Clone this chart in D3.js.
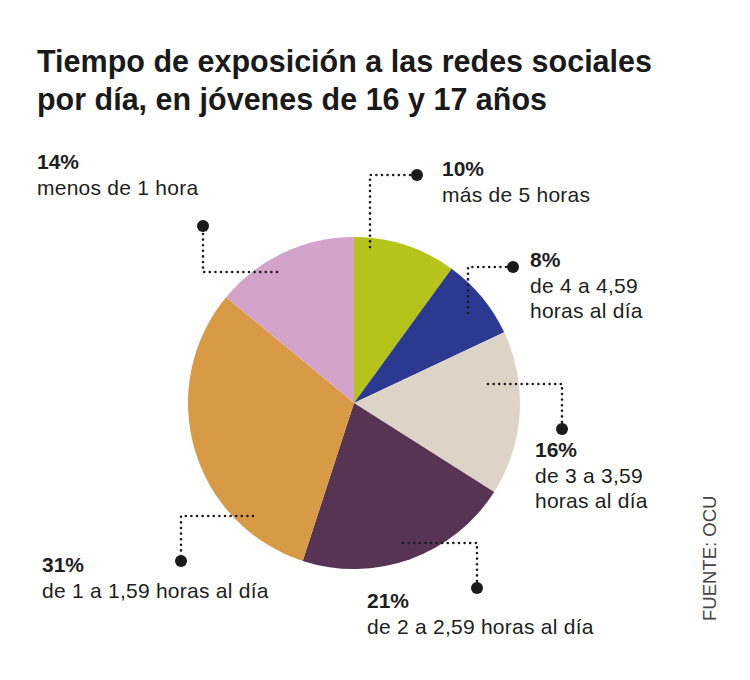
<!DOCTYPE html>
<html><head><meta charset="utf-8">
<script src="https://cdn.jsdelivr.net/npm/d3@7"></script>
<style>
html,body{margin:0;padding:0;background:#fff;}
svg{display:block;}
</style></head>
<body>
<svg id="chart" width="750" height="680"></svg>
<script>
// ---- data ----
const categories = ["más de 5 horas","de 4 a 4,59 horas al día","de 3 a 3,59 horas al día","de 2 a 2,59 horas al día","de 1 a 1,59 horas al día","menos de 1 hora"];
const values = [10, 8, 16, 21, 31, 14];
const colors = ["#b5c31a","#2b3a90","#ddd3c7","#573454","#d99a46","#d4a3c9"];
const labelLines = [["más de 5 horas"],["de 4 a 4,59","horas al día"],["de 3 a 3,59","horas al día"],["de 2 a 2,59 horas al día"],["de 1 a 1,59 horas al día"],["menos de 1 hora"]];
const titleLines = ["Tiempo de exposición a las redes sociales","por día, en jóvenes de 16 y 17 años"];
const source = "FUENTE: OCU";

// ---- layout ----
const W = 750, H = 680;
const cx = 354, cy = 403, R = 166;
// annotation layout: start point (offset from pie centre), elbow, dot, text anchor
const ann = [
  {pts:[[16,-156],[16,-228]], dot:[63,-228], text:[88,-227]},
  {pts:[[114,-90],[114,-136]], dot:[159,-136], text:[176,-136]},
  {pts:[[134,-19],[208,-19]], dot:[208,26], text:[181,54]},
  {pts:[[49,140],[123,140]], dot:[123,185], text:[13,205]},
  {pts:[[-101,113],[-173,113]], dot:[-173,158], text:[-312,169]},
  {pts:[[-77,-131],[-151,-131]], dot:[-151,-177], text:[-317,-234]}
];

const svg = d3.select("#chart");
svg.append("rect").attr("width",W).attr("height",H).attr("fill","#fff");

// title
const title = svg.append("g");
const titleW = [615, 510];
titleLines.forEach((t,i)=>{
  title.append("text")
    .attr("x",37).attr("y",72 + i*38)
    .attr("font-family","'Liberation Sans', Arial, sans-serif")
    .attr("font-weight","bold").attr("font-size",30.5)
    .attr("fill","#1a1a1a")
    .attr("textLength", titleW[i]).attr("lengthAdjust","spacingAndGlyphs")
    .text(t);
});

// pie
const pie = d3.pie().sort(null).value(d=>d)(values);
const arc = d3.arc().innerRadius(0).outerRadius(R);
const g = svg.append("g").attr("transform",`translate(${cx},${cy})`);
g.selectAll("path").data(pie).join("path")
  .attr("d",arc).attr("fill",(d,i)=>colors[i]);

// annotations
const ag = svg.append("g").attr("transform",`translate(${cx},${cy})`);
ann.forEach((a,i)=>{
  const pts = a.pts.concat([a.dot]);
  ag.append("path")
    .attr("d", d3.line()(pts))
    .attr("fill","none").attr("stroke","#1a1a1a")
    .attr("stroke-width",2.6).attr("stroke-linecap","round")
    .attr("stroke-dasharray","0 5.6");
  ag.append("circle").attr("cx",a.dot[0]).attr("cy",a.dot[1]).attr("r",6).attr("fill","#1a1a1a");
  const t = ag.append("text")
    .attr("x",a.text[0]).attr("y",a.text[1])
    .attr("font-family","'Liberation Sans', Arial, sans-serif")
    .attr("font-size",21).attr("fill","#1e1e1e");
  t.append("tspan").attr("x",a.text[0]).attr("dy",0)
    .attr("font-weight","bold").attr("font-size",21).text(values[i]+"%");
  labelLines[i].forEach((ln,j)=>{
    t.append("tspan").attr("x",a.text[0]).attr("dy",25.5)
      .attr("font-weight","normal").attr("letter-spacing",0.25).text(ln);
  });
});

// source
svg.append("text")
  .attr("transform","translate(716,621) rotate(-90)")
  .attr("font-family","'Liberation Sans', Arial, sans-serif")
  .attr("font-size",18.5).attr("fill","#444")
  .text(source);
</script>
</body></html>
